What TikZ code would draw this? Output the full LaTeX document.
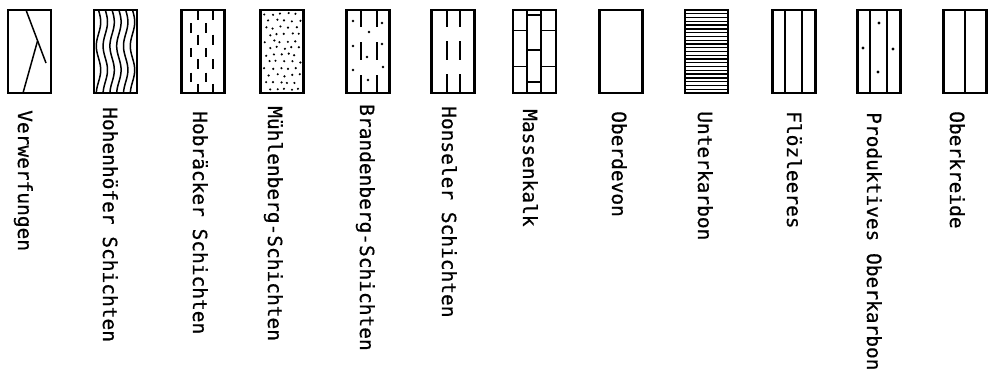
\documentclass[tikz,border=0pt]{standalone}
\usepackage{fontspec}
\newfontfamily\lblfont[FakeBold=0.6]{DejaVu Sans Mono}
\usetikzlibrary{calc,positioning}
\tikzstyle{swatch} = [draw, rectangle, line width=2.2pt, minimum width=43pt, minimum height=83pt, inner sep=0pt, outer sep=0pt]
\tikzstyle{lbl} = [rotate=-90, anchor=west, inner sep=0pt, font={\lblfont\fontsize{19.5}{22}\selectfont}, text height=14pt, text depth=4pt]
\tikzstyle{hatch} = [draw, line width=1.5pt]

\begin{document}
\begin{tikzpicture}[x=1pt, y=-1pt]
	\useasboundingbox (0,0) rectangle (992,376);

	% legend boxes
	\node [swatch] (verw) at (29.5,51.5) {};
	\node [swatch] (hohen) at (115.5,51.5) {};
	\node [swatch] (hobr) at (203,51.5) {};
	\node [swatch] (muehl) at (282,51.5) {};
	\node [swatch] (brand) at (368,51.5) {};
	\node [swatch] (hons) at (453,51.5) {};
	\node [swatch] (mass) at (534.5,51.5) {};
	\node [swatch] (oberd) at (621,51.5) {};
	\node [swatch] (unterk) at (706.5,51.5) {};
	\node [swatch] (floez) at (794,51.5) {};
	\node [swatch] (prod) at (879,51.5) {};
	\node [swatch] (oberk) at (965,51.5) {};

	% fillings
	\begin{scope}[shift={(verw.north west)}]
		\draw [hatch] (18,0) -- (38,53);
		\draw [hatch] ($(18,0)!0.58!(38,53)$) -- (15,83);
	\end{scope}
	\begin{scope}[shift={(hohen.north west)}]
		\foreach \i in {0,...,5}
			\draw [hatch] plot[domain=0:83, samples=50, smooth] ({4.5+6.8*\i+2.2*sin(\x*7.5)},\x);
	\end{scope}
	\begin{scope}[shift={(hobr.north west)}]
		\foreach \y in {0,24.6,49.2,73.8} {
			\draw [hatch] (16.5,\y) -- ++(0,10);
			\draw [hatch] (31.5,\y) -- ++(0,10);
		}
		\foreach \y in {13.3,37.9,62.5} {
			\draw [hatch] (9.5,\y) -- ++(0,9.5);
			\draw [hatch] (24.5,\y) -- ++(0,9.5);
		}
	\end{scope}
	\begin{scope}[shift={(muehl.north west)}]
		\pgfmathsetseed{3}
		\foreach \r in {0,...,11}
			\foreach \c in {0,...,4} {
				\pgfmathsetmacro\px{5+7.5*\c+3.75*mod(\r,2)+1.4*rand}
				\pgfmathsetmacro\py{4+6.8*\r+1.2*rand}
				\fill (\px,\py) circle (1.2pt);
			}
	\end{scope}
	\begin{scope}[shift={(brand.north west)}]
		\foreach \x in {14.5,30.5} {
			\draw [hatch] (\x,0) -- (\x,17);
			\draw [hatch] (\x,32) -- (\x,50);
			\draw [hatch] (\x,65) -- (\x,83);
		}
		\foreach \p in {(6.5,11),(35.5,13),(22.5,22),(6.5,36),(35.5,34),(20.5,47),(6.5,60),(36.5,57),(21.5,70)}
			\fill \p circle (1.4pt);
	\end{scope}
	\begin{scope}[shift={(hons.north west)}]
		\foreach \x in {15.5,28.5} {
			\draw [hatch] (\x,0) -- (\x,17);
			\draw [hatch] (\x,31) -- (\x,50);
			\draw [hatch] (\x,64) -- (\x,83);
		}
	\end{scope}
	\begin{scope}[shift={(mass.north west)}]
		\draw [hatch] (14,0) -- (14,83);
		\draw [hatch] (28,0) -- (28,83);
		\foreach \y in {20.5,56.5} {
			\draw [hatch] (0,\y) -- (14,\y);
			\draw [hatch] (28,\y) -- (43,\y);
		}
		\foreach \y in {5,40,72}
			\draw [hatch] (14,\y) -- (28,\y);
	\end{scope}
	\begin{scope}[shift={(unterk.north west)}]
		\foreach \i in {1,...,21}
			\draw [line width=1.3pt] (0,\i*3.77) -- ++(43,0);
	\end{scope}
	\begin{scope}[shift={(floez.north west)}]
		\draw [hatch] (12.5,0) -- (12.5,83);
		\draw [hatch] (29.5,0) -- (29.5,83);
	\end{scope}
	\begin{scope}[shift={(prod.north west)}]
		\draw [hatch] (12.5,0) -- (12.5,83);
		\draw [hatch] (29.5,0) -- (29.5,83);
		\foreach \p in {(21.5,13),(5.5,38),(35.5,39),(20.5,62)}
			\fill \p circle (1.6pt);
	\end{scope}
	\begin{scope}[shift={(oberk.north west)}]
		\draw [hatch] (21.5,0) -- (21.5,83);
	\end{scope}

	% labels
	\node [lbl] (verwL) at ($(verw.south)+(-6.5,17)$) {Verwerfungen};
	\node [lbl] (hohenL) at ($(hohen.south)+(-7.5,14)$) {Hohenhöfer Schichten};
	\node [lbl] (hobrL) at ($(hobr.south)+(-5,18)$) {Hobräcker Schichten};
	\node [lbl] (muehlL) at ($(muehl.south)+(-9,13)$) {Mühlenberg-Schichten};
	\node [lbl] (brandL) at ($(brand.south)+(-3,11)$) {Brandenberg-Schichten};
	\node [lbl] (honsL) at ($(hons.south)+(-6,13)$) {Honseler Schichten};
	\node [lbl] (massL) at ($(mass.south)+(-6.5,16)$) {Massenkalk};
	\node [lbl] (oberdL) at ($(oberd.south)+(-4,18)$) {Oberdevon};
	\node [lbl] (unterkL) at ($(unterk.south)+(-3.5,18)$) {Unterkarbon};
	\node [lbl] (floezL) at ($(floez.south)+(-2,18)$) {Flözleeres};
	\node [lbl] (prodL) at ($(prod.south)+(-7,19)$) {Produktives Oberkarbon};
	\node [lbl] (oberkL) at ($(oberk.south)+(-10,18)$) {Oberkreide};
\end{tikzpicture}
\end{document}
